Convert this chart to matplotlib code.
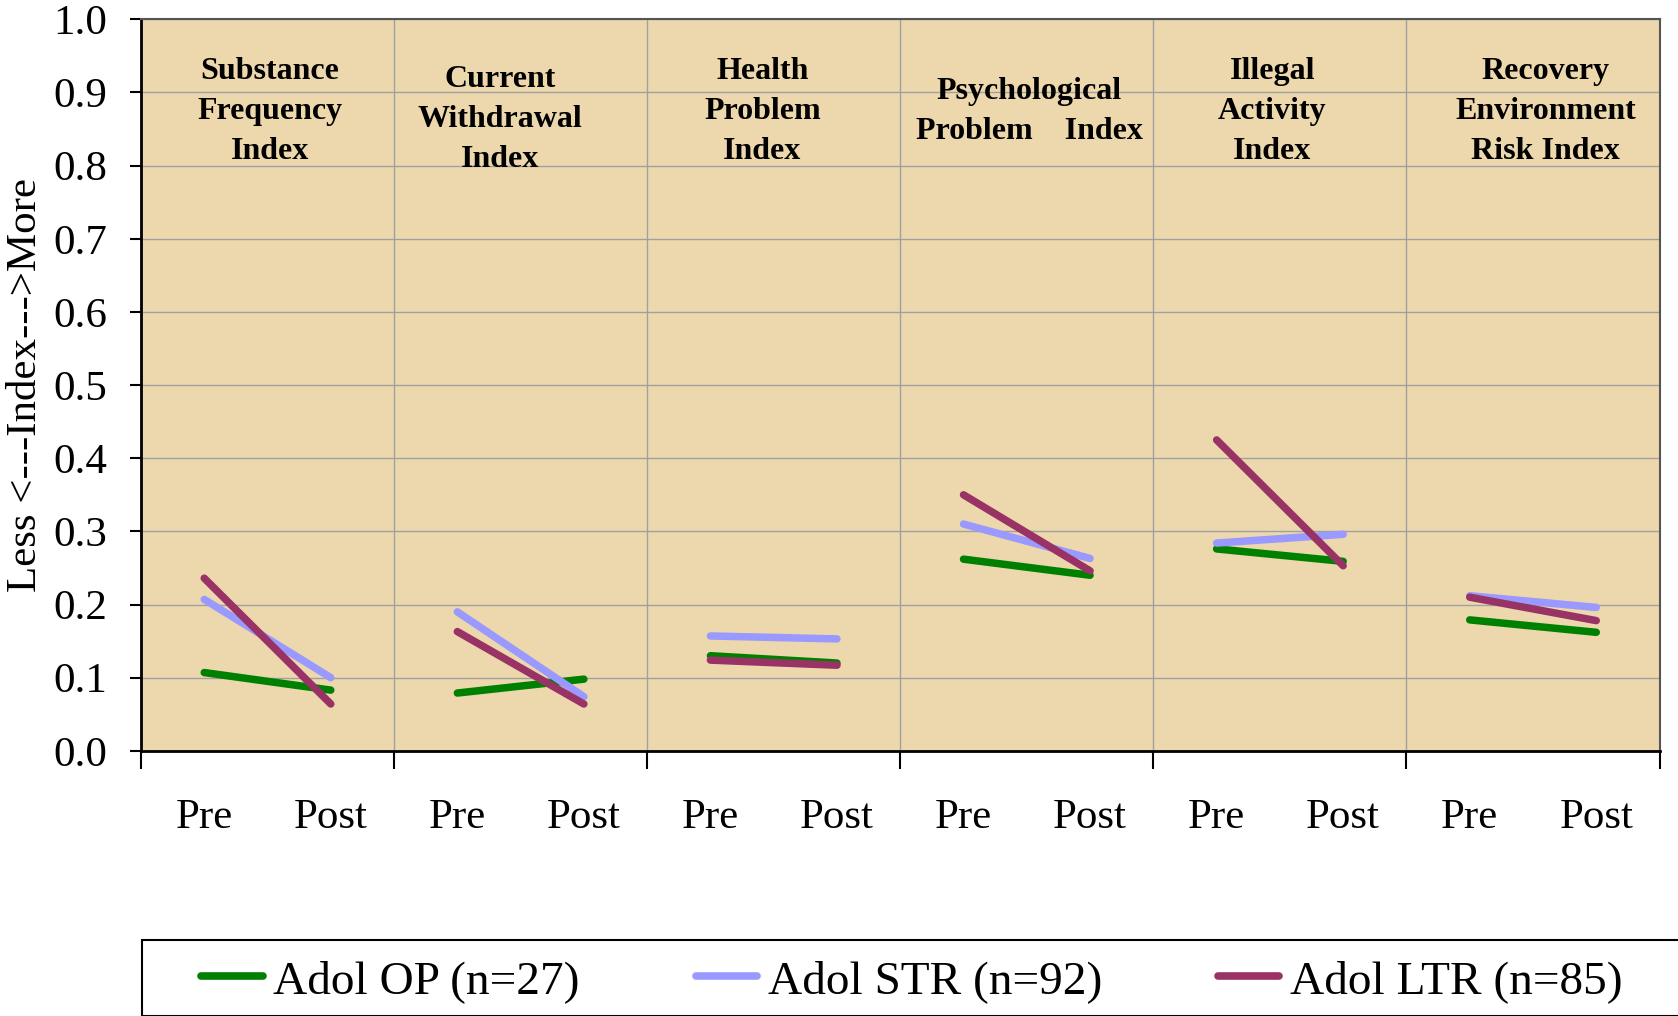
import matplotlib.pyplot as plt
from matplotlib.patches import Rectangle
import numpy as np

# index names (panel headings) and time points
indices = ["Substance\nFrequency\nIndex", "Current\nWithdrawal\nIndex", "Health\nProblem\nIndex",
           "Psychological\nProblem    Index", "Illegal\nActivity\nIndex", "Recovery\nEnvironment\nRisk Index"]
timepoints = ["Pre", "Post"]

# pre/post values per index
adol_op = [0.107, 0.083, 0.079, 0.098, 0.130, 0.120, 0.262, 0.240, 0.276, 0.259, 0.179, 0.162]
adol_str = [0.207, 0.100, 0.190, 0.074, 0.157, 0.153, 0.310, 0.263, 0.284, 0.296, 0.212, 0.196]
adol_ltr = [0.236, 0.064, 0.163, 0.064, 0.124, 0.117, 0.350, 0.246, 0.425, 0.253, 0.210, 0.178]

series = [("Adol OP (n=27)", adol_op, "#008000"),
          ("Adol STR (n=92)", adol_str, "#9999FF"),
          ("Adol LTR (n=85)", adol_ltr, "#993366")]

# heading placement (x in category units, y in data units)
head_x = [0.52, 2.34, 4.41, 6.52, 8.44, 10.60]
head_y = [0.874, 0.863, 0.874, 0.874, 0.874, 0.874]

plt.rcParams["font.family"] = ["Liberation Serif", "DejaVu Serif"]

fig = plt.figure(figsize=(16.78, 10.16), dpi=100)
ax = fig.add_axes([0.084, 0.261, 0.905, 0.72])
ax.set_facecolor("#EDD8AD")

n = len(indices)
for label, vals, col in series:
    for g in range(n):
        xs = [2 * g, 2 * g + 1]
        ax.plot(xs, vals[2 * g:2 * g + 2], color=col, lw=5.4, solid_capstyle="round",
                label=label if g == 0 else None)

for g in range(n):
    ax.text(head_x[g], head_y[g], indices[g], ha="center", va="center",
            fontsize=23, fontweight="bold", linespacing=1.5)

ax.set_xlim(-0.5, 2 * n - 0.5)
ax.set_ylim(0, 1)

yt = np.round(np.arange(0, 1.01, 0.1), 1)
ax.set_yticks(yt)
ax.set_yticklabels([f"{v:.1f}" for v in yt], fontsize=31)
ax.set_xticks(np.arange(-0.5, 2 * n, 2))
ax.set_xticklabels([])
ax.set_xticks(np.arange(2 * n), minor=True)
ax.set_xticklabels(timepoints * n, minor=True, fontsize=31)
ax.tick_params(axis="x", which="major", length=13, width=1.5, direction="out")
ax.tick_params(axis="x", which="minor", length=0, pad=34)
ax.tick_params(axis="y", length=8, width=1.5, direction="out", pad=16)
ax.grid(True, which="major", color="#A0A0A0", lw=1)
ax.set_axisbelow(True)

for s in ["left", "bottom"]:
    ax.spines[s].set_linewidth(2)
    ax.spines[s].set_color("black")
for s in ["top", "right"]:
    ax.spines[s].set_linewidth(1.5)
    ax.spines[s].set_color("#555555")

ax.set_ylabel("Less <---Index--->More", fontsize=31, labelpad=6)

# legend box runs off the bottom/right of the picture
fig.patches.append(Rectangle((0.0848, 0.0), 1.0, 0.0752, transform=fig.transFigure,
                             facecolor="white", edgecolor="black", lw=1.5))
leg = fig.legend(loc="center left", bbox_to_anchor=(0.1199, 0.034), ncol=3, fontsize=34,
                 frameon=False, handlelength=1.3, handletextpad=0.23, columnspacing=2.45,
                 borderpad=0, borderaxespad=0)
for line in leg.get_lines():
    line.set_linewidth(5.5)

fig.savefig("out.png", dpi=100)
